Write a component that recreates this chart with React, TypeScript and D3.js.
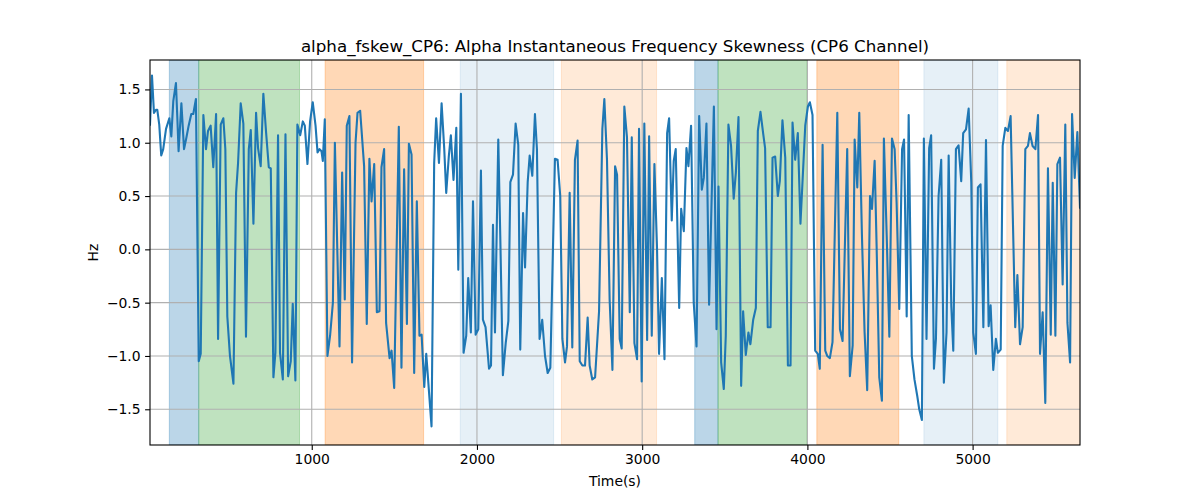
import { useRef, useEffect } from "react";
import * as d3 from "d3";

const TITLE = "alpha_fskew_CP6: Alpha Instantaneous Frequency Skewness (CP6 Channel)";

// sample times (s)
const times = [
  21, 33, 45, 57, 65, 77, 89, 101, 118, 130, 138, 150, 162, 178, 186, 194, 211, 227, 239, 255,
  271, 283, 299, 316, 328, 344, 360, 372, 388, 404, 421, 433, 449, 465, 477, 489, 505, 526, 542, 554,
  570, 586, 602, 619, 631, 647, 663, 675, 691, 707, 724, 740, 752, 768, 780, 796, 808, 825, 841, 857,
  873, 885, 901, 913, 930, 946, 958, 974, 990, 1006, 1023, 1035, 1047, 1059, 1067, 1079, 1095, 1111, 1128, 1140,
  1168, 1184, 1200, 1212, 1228, 1244, 1265, 1277, 1293, 1317, 1333, 1349, 1362, 1378, 1394, 1410, 1422, 1438, 1450, 1471,
  1483, 1499, 1527, 1543, 1559, 1576, 1588, 1604, 1620, 1636, 1652, 1665, 1681, 1693, 1725, 1741, 1753, 1770, 1786, 1802,
  1814, 1830, 1842, 1858, 1875, 1887, 1903, 1919, 1935, 1947, 1963, 1976, 1992, 2008, 2024, 2036, 2052, 2073, 2085, 2097,
  2109, 2129, 2141, 2157, 2174, 2190, 2202, 2218, 2234, 2250, 2262, 2279, 2291, 2307, 2319,
  2335, 2351, 2363, 2379, 2395, 2412, 2428, 2444, 2472, 2488, 2504, 2517, 2533, 2545, 2561, 2577, 2593, 2609, 2622, 2638,
  2654, 2670, 2682, 2698, 2715, 2739, 2759, 2771, 2787, 2803, 2820, 2836, 2848, 2864, 2876, 2892, 2908, 2925, 2937, 2953,
  2969, 2981, 2997, 3013, 3030, 3042, 3058, 3074, 3090, 3102, 3119, 3135, 3151, 3163, 3179, 3191, 3203, 3224, 3236, 3252,
  3268, 3280, 3296, 3312, 3329, 3345, 3361, 3373, 3389, 3405, 3434, 3450, 3462,
  3478, 3494, 3506, 3522, 3538, 3554, 3567, 3583, 3599, 3611, 3627, 3643, 3655, 3672, 3688, 3700, 3716, 3732, 3744, 3760,
  3777, 3789, 3805, 3821, 3833, 3849, 3866, 3882, 3898, 3910, 3926, 3942, 3958, 3987, 4003, 4015, 4031, 4047, 4063, 4075,
  4092, 4108, 4120, 4136, 4152, 4181, 4197, 4213, 4241, 4257, 4274, 4286, 4302, 4314, 4330, 4346, 4362, 4379, 4391, 4407,
  4419, 4435, 4451, 4463, 4480, 4496, 4512, 4528, 4540, 4556, 4573, 4585, 4601, 4613,
  4632, 4648, 4665, 4677, 4693, 4705, 4721, 4737, 4749, 4766, 4778, 4794, 4810, 4826, 4842, 4855, 4871, 4883, 4899, 4915,
  4931, 4943, 4960, 4976, 4992, 5004, 5020, 5032, 5048, 5065, 5081, 5097, 5109, 5125, 5141, 5153, 5170, 5182, 5198, 5214,
  5230, 5258, 5271, 5287, 5303, 5319, 5335, 5347, 5363, 5380, 5396, 5408, 5424, 5440, 5456, 5473, 5485, 5501, 5513, 5529,
  5545, 5561, 5574, 5590, 5602, 5618, 5634, 5650,
];

// skewness values (Hz)
const skew = [
  1.17, 1.63, 1.28, 1.31, 1.31, 1.17, 0.88, 0.94, 1.13, 1.19, 1.23, 1.06, 1.39, 1.56, 1.25, 0.92, 1.37, 0.94, 1.03, 1.16,
  1.27, 1.27, 1.41, -1.05, -0.98, 1.26, 0.94, 1.11, 1.16, 0.77, 1.27, -0.84, 1.17, 1.23, 0.94, -0.63, -1.0, -1.26, 0.53, 0.81,
  1.37, 1.18, -0.82, 0.94, 1.12, 0.24, 1.28, 0.95, 0.78, 1.46, 1.09, 0.77, 0.76, -1.2, -0.97, 1.07, -0.97, -1.22, 1.08, -1.19,
  -1.05, -0.51, -1.23, 1.17, 1.07, 1.2, 1.16, 0.8, 1.2, 1.38, 1.16, 0.91, 0.94, 0.92, 0.83, 1.22, -1.0, -0.81, -0.5, 1.0,
  -0.91, 0.72, -0.47, 1.16, 1.25, -1.06, 1.0, 1.28, 1.3, 0.78, -0.7, 0.85, 0.45, 0.8, -0.59, -0.58, 0.77, 0.94, -0.69, -1.02,
  -0.95, -1.3, 1.15, -1.11, 0.75, -0.7, 0.99, 0.89, -1.16, 0.45, -0.81, -0.8, -1.29, -0.98, -1.66, 0.81, 1.23, 0.81, 1.37, 0.94,
  0.53, 0.88, 1.07, 0.65, 1.14, -0.19, 1.46, -0.97, -0.81, -0.27, -0.78, 0.45, -0.8, -0.75, 0.74, -0.66, -0.73, -1.12, -1.09, 0.23,
  -0.78, 1.03, 0.13, -1.18, -0.88, -0.67, 0.63, 0.7, 1.18, 0.98, -0.94, 0.34, -0.17, 0.63, 0.88,
  0.69, 1.27, 0.94, -0.84, -0.66, -1.0, -1.16, -1.11, 0.85, 0.84, 0.5, -0.84, -1.06, -0.91, 0.53, -0.92, 0.84, 1.02, -1.05, -1.09,
  -1.09, -0.64, -1.09, -1.22, -1.2, -0.58, 1.13, 1.41, 0.84, -0.47, -1.13, 0.78, 0.7, -0.84, -0.93, 1.34, 1.05, -0.59, 1.05, -0.88,
  -1.03, 1.13, -1.24, 1.18, -0.85, 1.06, -0.81, 0.8, 0.0, -0.98, -0.27, -1.03, 1.09, 1.23, 0.27, 0.83, 0.94, -0.55, 0.38, 0.17,
  0.95, 0.78, 1.16, -0.5, -0.91, 1.25, 0.56, 0.67, 1.18, -0.52, 1.34, -0.75, 0.59,
  -1.06, -1.31, -0.81, 1.17, 0.97, 0.475, 0.72, 1.24, -1.28, -0.58, -0.99, -0.78, -0.89, -0.66, -0.55, 1.11, 1.29, 1.09, 0.95, -0.73,
  -0.73, 0.86, 0.87, 0.5, 0.64, 1.21, 0.86, -1.09, -1.09, 1.19, 0.84, 1.09, 0.24, 1.16, 1.34, 1.38, 1.26, -0.95, -0.98, -1.12,
  0.98, -0.95, -1.0, -1.02, -0.87, 1.28, -0.75, -0.86, 0.94, -1.19, -0.9, 1.03, 0.58, 1.28, 0.14, -0.77, -1.32, 0.5, 0.38, 0.83,
  0.03, -1.2, -1.42, 1.04, 0.13, -0.82, 1.04, 0.94, 0.44, -0.56, 0.94, 1.03, -0.63, 1.26,
  -1.0, -1.22, -1.375, -1.5, -1.6, 1.04, -0.84, 0.95, 1.07, -1.12, -0.84, 0.5, 0.84, -1.25, -0.78, 0.88, -0.53, -0.95, 0.94, 0.975,
  0.64, 1.09, 1.125, 1.32, 0.625, -0.78, -0.98, 0.58, 0.61, -0.73, 1.025, -0.72, -0.525, -1.13, -0.84, -0.97, -0.94, 0.97, 1.14, 1.11,
  1.25, -0.73, -0.24, -0.89, -0.73, 0.94, 0.97, 1.09, 0.97, 0.94, 1.26, -0.98, -0.59, -1.44, 0.76, -0.8, 0.625, -0.81, 0.8, 0.86,
  -0.33, 1.17, -0.69, -1.06, 1.27, 0.67, 1.1, 0.39,
];

// shaded intervals
const spanStart = [138, 316, 1081, 1899, 2511, 3318, 3459, 4057, 4705, 5207];
const spanEnd = [316, 926, 1677, 2464, 3087, 3459, 3998, 4553, 5153, 5700];
const spanKind = ["blue", "green", "orange", "blueLight", "orangeLight", "blue", "green", "orange", "blueLight", "orangeLight"];

const xTicks = [1000, 2000, 3000, 4000, 5000];
const yTicks = [-1.5, -1.0, -0.5, 0.0, 0.5, 1.0, 1.5];
const Y_DOMAIN = [-1.835, 1.776];

const SPAN_STYLE: Record<string, { color: string; alpha: number }> = {
  blue: { color: "#1f77b4", alpha: 0.3 },
  green: { color: "#2ca02c", alpha: 0.3 },
  orange: { color: "#ff7f0e", alpha: 0.3 },
  blueLight: { color: "#1f77b4", alpha: 0.11 },
  orangeLight: { color: "#ff7f0e", alpha: 0.16 },
};

const WIDTH = 1200;
const HEIGHT = 500;
const MARGIN = { top: 60, right: 120, bottom: 55, left: 150 };
const INNER_W = WIDTH - MARGIN.left - MARGIN.right;
const INNER_H = HEIGHT - MARGIN.top - MARGIN.bottom;
const FONT = "'DejaVu Sans', sans-serif";

export default function App() {
  const svgRef = useRef<SVGSVGElement>(null);

  useEffect(() => {
    const svg = d3.select(svgRef.current);
    svg.selectAll("*").remove();

    const data = times.map((t, i) => ({ t, v: skew[i] }));
    const x = d3.scaleLinear().domain(d3.extent(times) as [number, number]).range([0, INNER_W]);
    const y = d3.scaleLinear().domain(Y_DOMAIN).range([INNER_H, 0]);

    svg.append("rect").attr("width", WIDTH).attr("height", HEIGHT).attr("fill", "#fff");

    svg.append("defs").append("clipPath").attr("id", "plot-clip")
      .append("rect").attr("width", INNER_W).attr("height", INNER_H);

    const g = svg.append("g").attr("transform", `translate(${MARGIN.left},${MARGIN.top})`);

    // shaded spans
    const spans = g.append("g").attr("clip-path", "url(#plot-clip)");
    spanStart.forEach((s, i) => {
      const st = SPAN_STYLE[spanKind[i]];
      spans.append("rect")
        .attr("x", x(s))
        .attr("y", 0)
        .attr("width", x(spanEnd[i]) - x(s))
        .attr("height", INNER_H)
        .attr("fill", st.color)
        .attr("fill-opacity", st.alpha)
        .attr("stroke", st.color)
        .attr("stroke-opacity", st.alpha)
        .attr("stroke-width", 1);
    });

    // grid
    g.append("g")
      .selectAll("line.gx")
      .data(xTicks)
      .join("line")
      .attr("x1", (d) => x(d)).attr("x2", (d) => x(d))
      .attr("y1", 0).attr("y2", INNER_H)
      .attr("stroke", "#b0b0b0").attr("stroke-width", 1.1);
    g.append("g")
      .selectAll("line.gy")
      .data(yTicks)
      .join("line")
      .attr("x1", 0).attr("x2", INNER_W)
      .attr("y1", (d) => y(d)).attr("y2", (d) => y(d))
      .attr("stroke", "#b0b0b0").attr("stroke-width", 1.1);

    // series
    const line = d3.line<{ t: number; v: number }>()
      .x((d) => x(d.t))
      .y((d) => y(d.v));
    g.append("path")
      .datum(data)
      .attr("clip-path", "url(#plot-clip)")
      .attr("fill", "none")
      .attr("stroke", "#1f77b4")
      .attr("stroke-width", 2.1)
      .attr("stroke-linejoin", "round")
      .attr("stroke-linecap", "square")
      .attr("d", line);

    // axes
    const styleAxis = (a: d3.Selection<SVGGElement, unknown, null, undefined>) => {
      a.select(".domain").remove();
      a.selectAll("line").attr("stroke", "#000").attr("stroke-width", 1.1);
      a.selectAll("text").attr("fill", "#000").attr("font-size", "13.9px").attr("font-family", FONT);
    };

    g.append("g")
      .attr("transform", `translate(0,${INNER_H})`)
      .call(d3.axisBottom(x).tickValues(xTicks).tickSize(4.9).tickPadding(4.5).tickFormat(d3.format("d")))
      .call(styleAxis);

    g.append("g")
      .call(d3.axisLeft(y).tickValues(yTicks).tickSize(4.9).tickPadding(4.5).tickFormat((d) => (d as number).toFixed(1).replace("-", "\u2212")))
      .call(styleAxis);

    g.append("rect")
      .attr("width", INNER_W).attr("height", INNER_H)
      .attr("fill", "none").attr("stroke", "#000").attr("stroke-width", 1.1);

    // labels
    svg.append("text")
      .attr("x", MARGIN.left + INNER_W / 2).attr("y", 52)
      .attr("text-anchor", "middle")
      .attr("font-family", FONT).attr("font-size", "16.7px")
      .text(TITLE);

    svg.append("text")
      .attr("x", MARGIN.left + INNER_W / 2).attr("y", 486)
      .attr("text-anchor", "middle")
      .attr("font-family", FONT).attr("font-size", "13.9px")
      .text("Time(s)");

    svg.append("text")
      .attr("transform", `translate(98,${MARGIN.top + INNER_H / 2}) rotate(-90)`)
      .attr("text-anchor", "middle")
      .attr("font-family", FONT).attr("font-size", "13.9px")
      .text("Hz");
  }, []);

  return (
    <svg
      ref={svgRef}
      width={WIDTH}
      height={HEIGHT}
      viewBox={`0 0 ${WIDTH} ${HEIGHT}`}
      style={{ position: "absolute", left: 0, top: 0 }}
    />
  );
}
